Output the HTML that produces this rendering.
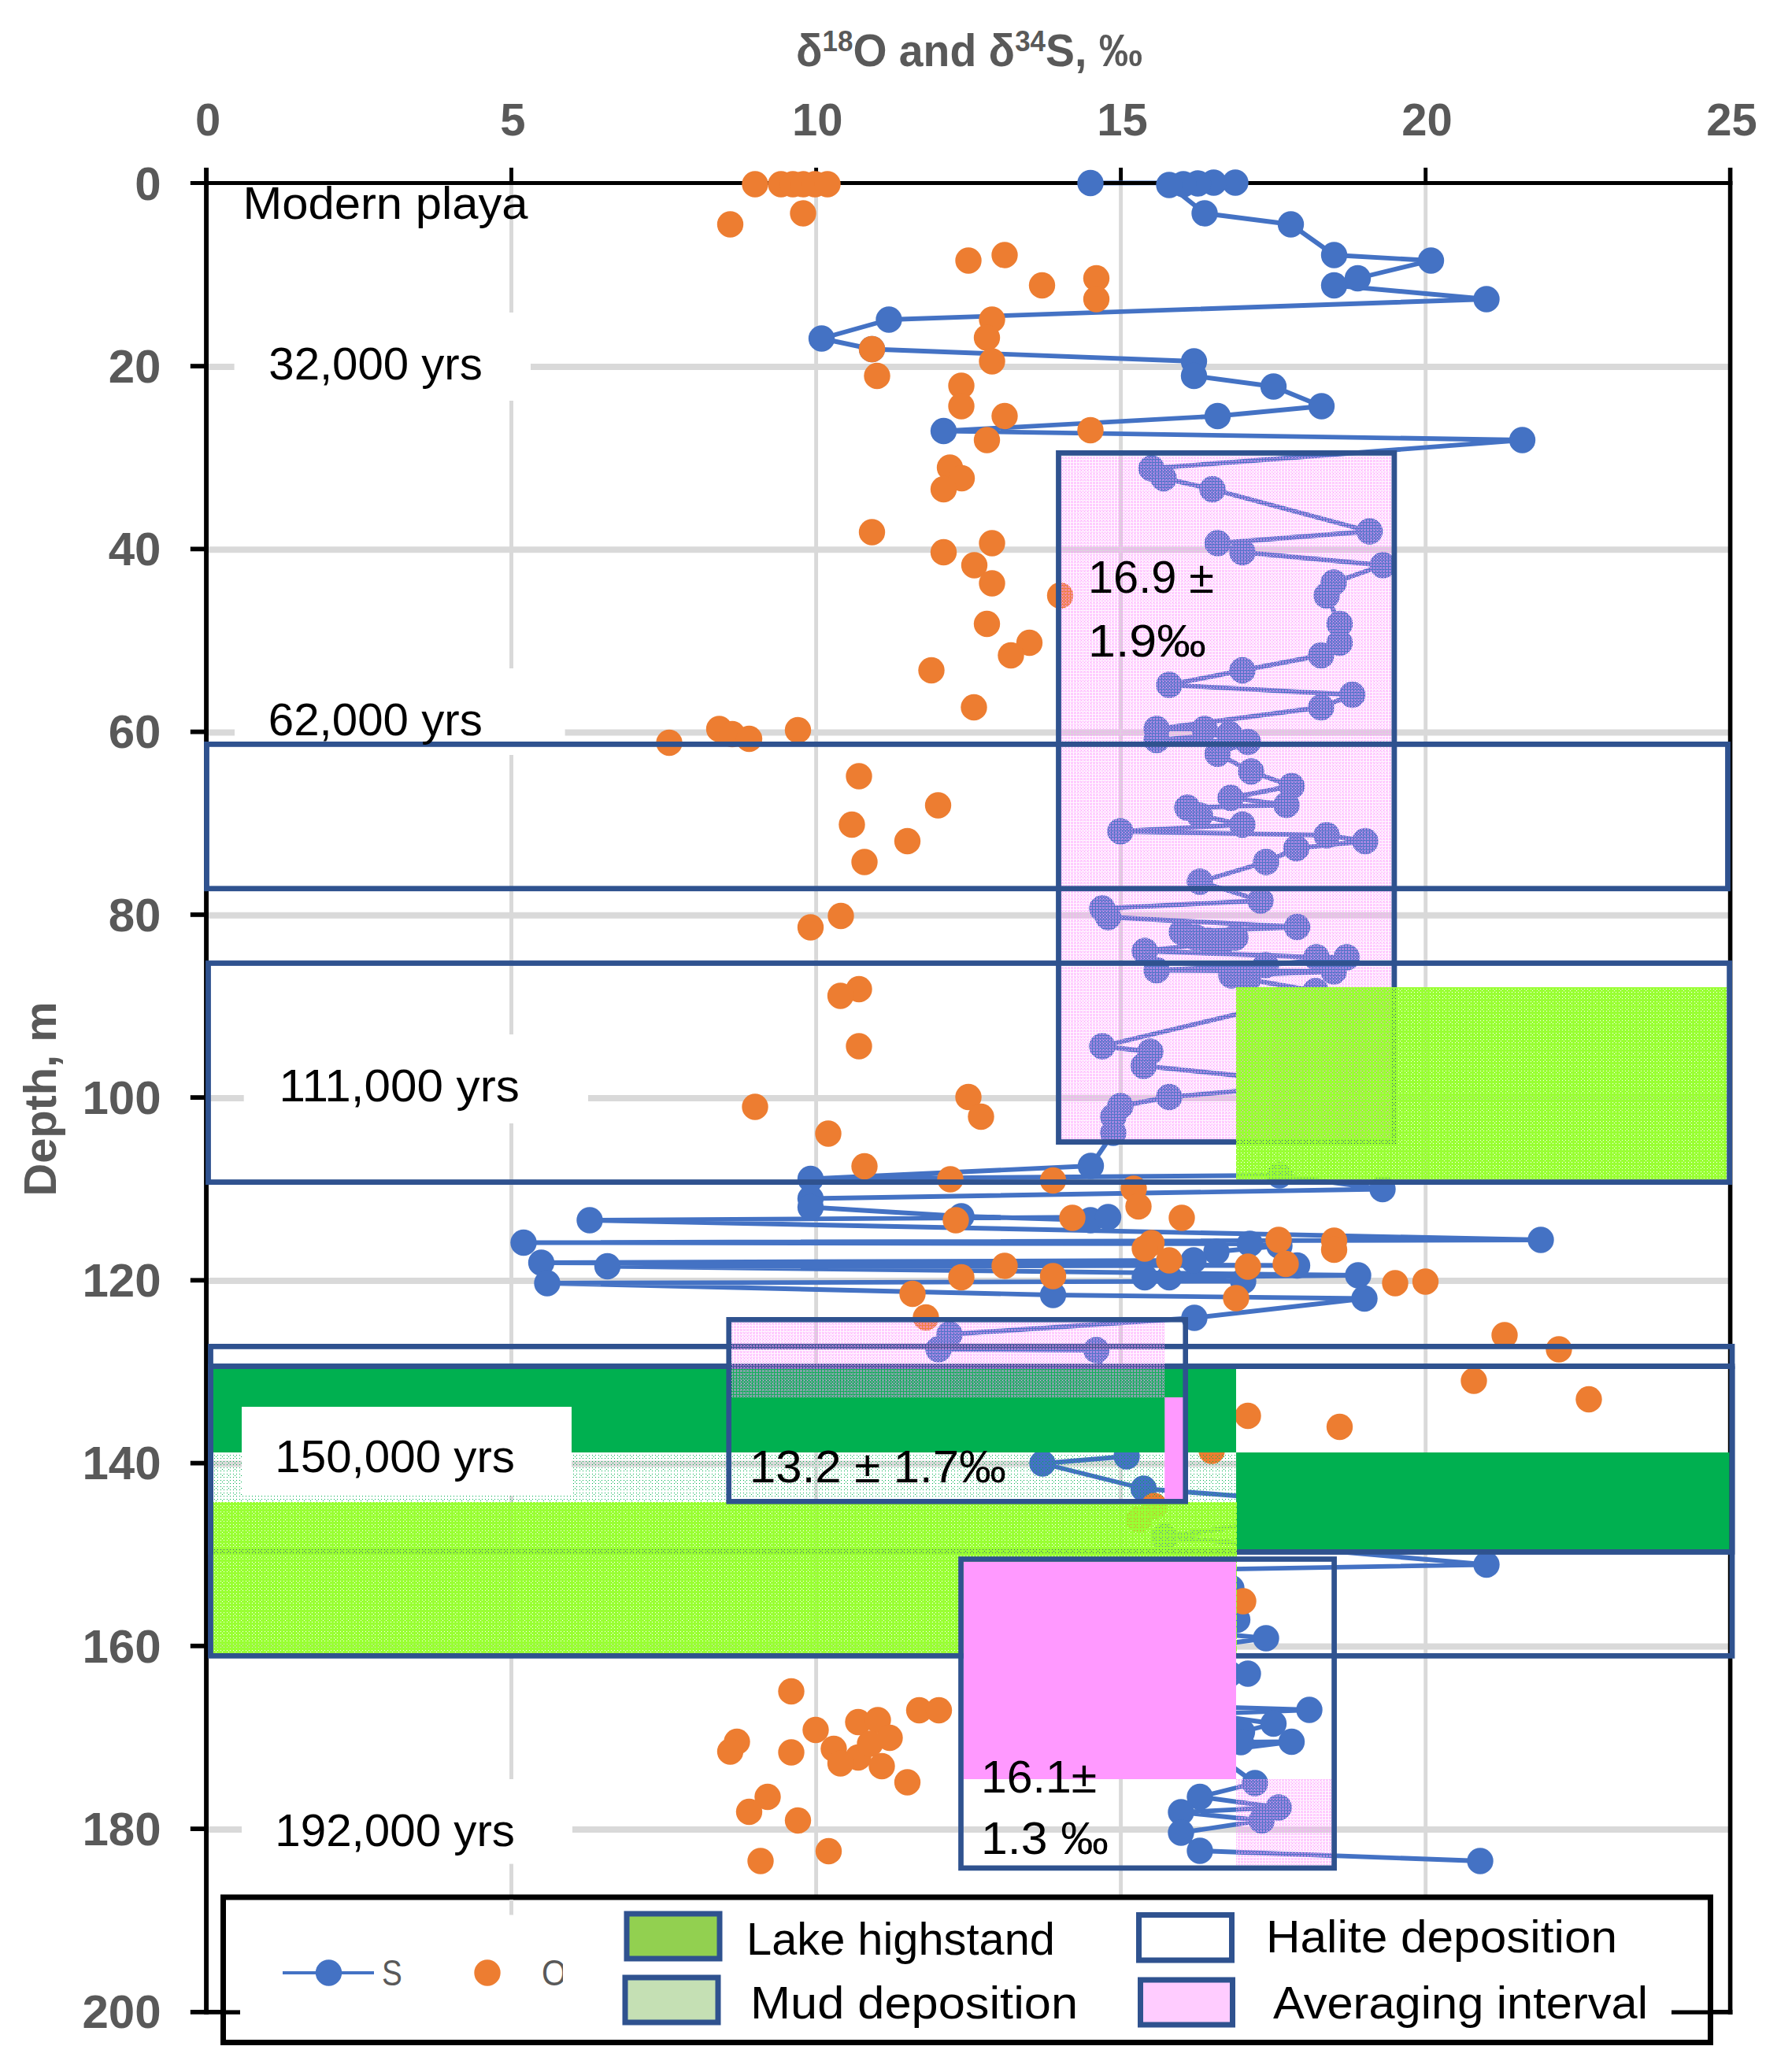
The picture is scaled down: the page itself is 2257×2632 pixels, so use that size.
<!DOCTYPE html>
<html lang="en"><head><meta charset="utf-8"><title>Isotope depth profile</title>
<style>html,body{margin:0;padding:0;background:#fff}svg{display:block}text{font-family:"Liberation Sans",sans-serif}</style></head><body>
<svg width="2257" height="2632" viewBox="0 0 2257 2632">
<defs>
<pattern id="pk" width="4" height="4" patternUnits="userSpaceOnUse" shape-rendering="crispEdges"><path fill="#FF99FF" d="M0 0h1v1h-1zM2 0h1v1h-1zM1 1h1v1h-1zM0 2h1v1h-1zM2 2h1v1h-1z"/></pattern>
<pattern id="lm" width="8" height="8" patternUnits="userSpaceOnUse" shape-rendering="crispEdges"><path fill="#99FF33" d="M1 0h3v1h-3zM5 0h3v1h-3zM0 1h8v1h-8zM0 2h2v1h-2zM3 2h5v1h-5zM0 3h8v1h-8zM1 4h3v1h-3zM5 4h3v1h-3zM0 5h8v3h-8z"/></pattern>
<pattern id="md" width="8" height="8" patternUnits="userSpaceOnUse" shape-rendering="crispEdges"><path fill="#00B050" d="M0 0h1v1h-1zM4 0h1v1h-1zM2 2h1v1h-1zM0 4h1v1h-1zM4 4h1v1h-1z"/></pattern>
<clipPath id="oc"><rect x="680" y="2470" width="35" height="80"/></clipPath>
</defs>
<rect width="2257" height="2632" fill="#fff"/>
<g stroke="#D9D9D9" fill="none">
<line x1="649.5" y1="235" x2="649.5" y2="2432.5" stroke-width="4.9"/>
<line x1="1036.6" y1="235" x2="1036.6" y2="2414" stroke-width="4.9"/>
<line x1="1423.6" y1="235" x2="1423.6" y2="2414" stroke-width="4.9"/>
<line x1="1810.7" y1="235" x2="1810.7" y2="2414" stroke-width="4.9"/>
<line x1="265" y1="465.9" x2="2195" y2="465.9" stroke-width="8"/>
<line x1="265" y1="698.2" x2="2195" y2="698.2" stroke-width="8"/>
<line x1="265" y1="930.4" x2="2195" y2="930.4" stroke-width="8"/>
<line x1="265" y1="1162.7" x2="2195" y2="1162.7" stroke-width="8"/>
<line x1="265" y1="1394.9" x2="2195" y2="1394.9" stroke-width="8"/>
<line x1="265" y1="1627.1" x2="2195" y2="1627.1" stroke-width="8"/>
<line x1="265" y1="1859.4" x2="2195" y2="1859.4" stroke-width="8"/>
<line x1="265" y1="2091.6" x2="2195" y2="2091.6" stroke-width="8"/>
<line x1="265" y1="2323.9" x2="2195" y2="2323.9" stroke-width="8"/>
</g>
<g fill="#fff">
<rect x="297.6" y="397" width="376.4" height="112"/>
<rect x="298" y="849" width="419.6" height="110"/>
<rect x="309.7" y="1314" width="437.3" height="113"/>
<rect x="307" y="2260" width="420" height="107.6"/>
</g>
<g stroke="#000" fill="none">
<line x1="241.8" y1="232.5" x2="2200.4" y2="232.5" stroke-width="5"/>
<line x1="262.05" y1="213" x2="262.05" y2="2559" stroke-width="5.9"/>
<line x1="2197.6" y1="213" x2="2197.6" y2="2559" stroke-width="5.6"/>
<line x1="241.8" y1="2555.8" x2="2200.4" y2="2555.8" stroke-width="5.8"/>
<line x1="649.5" y1="213" x2="649.5" y2="232.5" stroke-width="4.9"/>
<line x1="1036.6" y1="213" x2="1036.6" y2="232.5" stroke-width="4.9"/>
<line x1="1423.6" y1="213" x2="1423.6" y2="232.5" stroke-width="4.9"/>
<line x1="1810.7" y1="213" x2="1810.7" y2="232.5" stroke-width="4.9"/>
<line x1="241.8" y1="465.1" x2="262.2" y2="465.1" stroke-width="5.8"/>
<line x1="241.8" y1="697.4" x2="262.2" y2="697.4" stroke-width="5.8"/>
<line x1="241.8" y1="929.6" x2="262.2" y2="929.6" stroke-width="5.8"/>
<line x1="241.8" y1="1161.9" x2="262.2" y2="1161.9" stroke-width="5.8"/>
<line x1="241.8" y1="1394.1" x2="262.2" y2="1394.1" stroke-width="5.8"/>
<line x1="241.8" y1="1626.3" x2="262.2" y2="1626.3" stroke-width="5.8"/>
<line x1="241.8" y1="1858.6" x2="262.2" y2="1858.6" stroke-width="5.8"/>
<line x1="241.8" y1="2090.8" x2="262.2" y2="2090.8" stroke-width="5.8"/>
<line x1="241.8" y1="2323.1" x2="262.2" y2="2323.1" stroke-width="5.8"/>
</g>
<rect x="267.5" y="1735.6" width="1932.5" height="235.70000000000005" fill="none" stroke="#2F528F" stroke-width="6.8"/>
<polyline points="1385.0,232.5 1569.0,232.0 1541.5,232.0 1521.5,233.0 1503.0,234.0 1485.0,235.0 1530.0,271.0 1639.5,285.0 1694.5,324.0 1817.5,331.0 1724.5,353.5 1694.5,362.5 1888.0,380.0 1129.0,406.0 1043.5,430.0 1107.5,443.5 1516.5,459.0 1516.5,477.5 1617.5,491.0 1678.5,516.0 1546.5,528.5 1198.5,547.5 1933.5,559.0 1462.5,595.0 1478.0,607.5 1540.0,621.5 1739.5,675.0 1546.5,690.0 1578.0,701.5 1756.5,718.0 1694.0,740.0 1685.0,756.5 1701.5,792.5 1701.5,816.5 1678.0,832.5 1578.0,851.5 1485.0,870.0 1717.5,882.5 1678.0,898.5 1469.0,926.0 1530.0,926.0 1561.5,932.5 1469.0,940.0 1585.0,942.5 1546.5,957.5 1589.0,980.0 1640.5,998.5 1563.0,1013.5 1634.0,1022.5 1508.0,1026.0 1524.0,1036.0 1578.0,1047.5 1423.0,1056.0 1685.0,1061.0 1734.0,1068.5 1646.5,1077.5 1608.0,1095.0 1524.0,1120.0 1601.0,1144.0 1400.0,1154.0 1407.5,1165.0 1647.5,1177.5 1501.0,1184.0 1519.0,1191.0 1569.0,1191.0 1535.0,1195.0 1552.0,1197.0 1454.0,1208.0 1672.0,1216.0 1710.5,1216.0 1607.5,1226.0 1469.0,1232.5 1694.0,1234.0 1564.0,1239.0 1585.0,1244.0 1671.0,1259.0 1669.0,1265.0 1400.0,1329.0 1461.0,1336.0 1452.5,1354.0 1609.0,1370.0 1641.5,1380.0 1485.0,1393.5 1423.0,1405.0 1414.0,1418.5 1414.0,1439.0 1385.5,1481.0 1029.5,1497.5 1625.0,1493.0 1756.0,1510.5 1029.5,1522.5 1029.5,1533.5 1221.0,1545.0 1385.0,1550.0 1407.5,1546.0 749.0,1550.0 1957.0,1575.0 665.0,1578.5 1587.5,1580.0 1625.0,1582.5 1545.0,1590.0 1516.0,1601.0 687.5,1604.0 1647.5,1607.5 771.5,1608.5 1725.0,1620.0 1454.0,1622.5 1485.0,1622.5 1579.0,1627.5 695.0,1630.0 1337.5,1645.0 1733.0,1649.5 1517.0,1674.0 1206.0,1695.0 1192.0,1714.0 1392.5,1715.0 1431.0,1850.0 1324.0,1859.0 1452.5,1891.0 1750.0,1914.0 1479.0,1952.0 1888.0,1987.5 1400.0,1996.0 1564.0,2017.5 1530.0,2040.0 1571.5,2057.5 1535.0,2074.0 1608.0,2081.0 1535.0,2091.0 1585.0,2126.0 1530.0,2168.0 1663.0,2172.0 1530.0,2177.0 1617.5,2189.5 1577.5,2200.0 1576.0,2213.0 1640.5,2212.5 1540.0,2225.0 1550.0,2233.0 1594.0,2265.0 1524.0,2282.5 1624.0,2296.0 1500.0,2302.0 1602.5,2312.5 1500.0,2328.0 1524.0,2351.0 1880.0,2364.0" fill="none" stroke="#4472C4" stroke-width="5.9" stroke-linejoin="round"/>
<line x1="1380" y1="232.5" x2="1575" y2="232.5" stroke="#000" stroke-width="5"/>
<g fill="#4472C4"><circle cx="1385.0" cy="232.5" r="16.7"/><circle cx="1569.0" cy="232.0" r="16.7"/><circle cx="1541.5" cy="232.0" r="16.7"/><circle cx="1521.5" cy="233.0" r="16.7"/><circle cx="1503.0" cy="234.0" r="16.7"/><circle cx="1485.0" cy="235.0" r="16.7"/><circle cx="1530.0" cy="271.0" r="16.7"/><circle cx="1639.5" cy="285.0" r="16.7"/><circle cx="1694.5" cy="324.0" r="16.7"/><circle cx="1817.5" cy="331.0" r="16.7"/><circle cx="1724.5" cy="353.5" r="16.7"/><circle cx="1694.5" cy="362.5" r="16.7"/><circle cx="1888.0" cy="380.0" r="16.7"/><circle cx="1129.0" cy="406.0" r="16.7"/><circle cx="1043.5" cy="430.0" r="16.7"/><circle cx="1107.5" cy="443.5" r="16.7"/><circle cx="1516.5" cy="459.0" r="16.7"/><circle cx="1516.5" cy="477.5" r="16.7"/><circle cx="1617.5" cy="491.0" r="16.7"/><circle cx="1678.5" cy="516.0" r="16.7"/><circle cx="1546.5" cy="528.5" r="16.7"/><circle cx="1198.5" cy="547.5" r="16.7"/><circle cx="1933.5" cy="559.0" r="16.7"/><circle cx="1462.5" cy="595.0" r="16.7"/><circle cx="1478.0" cy="607.5" r="16.7"/><circle cx="1540.0" cy="621.5" r="16.7"/><circle cx="1739.5" cy="675.0" r="16.7"/><circle cx="1546.5" cy="690.0" r="16.7"/><circle cx="1578.0" cy="701.5" r="16.7"/><circle cx="1756.5" cy="718.0" r="16.7"/><circle cx="1694.0" cy="740.0" r="16.7"/><circle cx="1685.0" cy="756.5" r="16.7"/><circle cx="1701.5" cy="792.5" r="16.7"/><circle cx="1701.5" cy="816.5" r="16.7"/><circle cx="1678.0" cy="832.5" r="16.7"/><circle cx="1578.0" cy="851.5" r="16.7"/><circle cx="1485.0" cy="870.0" r="16.7"/><circle cx="1717.5" cy="882.5" r="16.7"/><circle cx="1678.0" cy="898.5" r="16.7"/><circle cx="1469.0" cy="926.0" r="16.7"/><circle cx="1530.0" cy="926.0" r="16.7"/><circle cx="1561.5" cy="932.5" r="16.7"/><circle cx="1469.0" cy="940.0" r="16.7"/><circle cx="1585.0" cy="942.5" r="16.7"/><circle cx="1546.5" cy="957.5" r="16.7"/><circle cx="1589.0" cy="980.0" r="16.7"/><circle cx="1640.5" cy="998.5" r="16.7"/><circle cx="1563.0" cy="1013.5" r="16.7"/><circle cx="1634.0" cy="1022.5" r="16.7"/><circle cx="1508.0" cy="1026.0" r="16.7"/><circle cx="1524.0" cy="1036.0" r="16.7"/><circle cx="1578.0" cy="1047.5" r="16.7"/><circle cx="1423.0" cy="1056.0" r="16.7"/><circle cx="1685.0" cy="1061.0" r="16.7"/><circle cx="1734.0" cy="1068.5" r="16.7"/><circle cx="1646.5" cy="1077.5" r="16.7"/><circle cx="1608.0" cy="1095.0" r="16.7"/><circle cx="1524.0" cy="1120.0" r="16.7"/><circle cx="1601.0" cy="1144.0" r="16.7"/><circle cx="1400.0" cy="1154.0" r="16.7"/><circle cx="1407.5" cy="1165.0" r="16.7"/><circle cx="1647.5" cy="1177.5" r="16.7"/><circle cx="1501.0" cy="1184.0" r="16.7"/><circle cx="1519.0" cy="1191.0" r="16.7"/><circle cx="1569.0" cy="1191.0" r="16.7"/><circle cx="1535.0" cy="1195.0" r="16.7"/><circle cx="1552.0" cy="1197.0" r="16.7"/><circle cx="1454.0" cy="1208.0" r="16.7"/><circle cx="1672.0" cy="1216.0" r="16.7"/><circle cx="1710.5" cy="1216.0" r="16.7"/><circle cx="1607.5" cy="1226.0" r="16.7"/><circle cx="1469.0" cy="1232.5" r="16.7"/><circle cx="1694.0" cy="1234.0" r="16.7"/><circle cx="1564.0" cy="1239.0" r="16.7"/><circle cx="1585.0" cy="1244.0" r="16.7"/><circle cx="1671.0" cy="1259.0" r="16.7"/><circle cx="1669.0" cy="1265.0" r="16.7"/><circle cx="1400.0" cy="1329.0" r="16.7"/><circle cx="1461.0" cy="1336.0" r="16.7"/><circle cx="1452.5" cy="1354.0" r="16.7"/><circle cx="1609.0" cy="1370.0" r="16.7"/><circle cx="1641.5" cy="1380.0" r="16.7"/><circle cx="1485.0" cy="1393.5" r="16.7"/><circle cx="1423.0" cy="1405.0" r="16.7"/><circle cx="1414.0" cy="1418.5" r="16.7"/><circle cx="1414.0" cy="1439.0" r="16.7"/><circle cx="1385.5" cy="1481.0" r="16.7"/><circle cx="1029.5" cy="1497.5" r="16.7"/><circle cx="1625.0" cy="1493.0" r="16.7"/><circle cx="1756.0" cy="1510.5" r="16.7"/><circle cx="1029.5" cy="1522.5" r="16.7"/><circle cx="1029.5" cy="1533.5" r="16.7"/><circle cx="1221.0" cy="1545.0" r="16.7"/><circle cx="1385.0" cy="1550.0" r="16.7"/><circle cx="1407.5" cy="1546.0" r="16.7"/><circle cx="749.0" cy="1550.0" r="16.7"/><circle cx="1957.0" cy="1575.0" r="16.7"/><circle cx="665.0" cy="1578.5" r="16.7"/><circle cx="1587.5" cy="1580.0" r="16.7"/><circle cx="1625.0" cy="1582.5" r="16.7"/><circle cx="1545.0" cy="1590.0" r="16.7"/><circle cx="1516.0" cy="1601.0" r="16.7"/><circle cx="687.5" cy="1604.0" r="16.7"/><circle cx="1647.5" cy="1607.5" r="16.7"/><circle cx="771.5" cy="1608.5" r="16.7"/><circle cx="1725.0" cy="1620.0" r="16.7"/><circle cx="1454.0" cy="1622.5" r="16.7"/><circle cx="1485.0" cy="1622.5" r="16.7"/><circle cx="1579.0" cy="1627.5" r="16.7"/><circle cx="695.0" cy="1630.0" r="16.7"/><circle cx="1337.5" cy="1645.0" r="16.7"/><circle cx="1733.0" cy="1649.5" r="16.7"/><circle cx="1517.0" cy="1674.0" r="16.7"/><circle cx="1206.0" cy="1695.0" r="16.7"/><circle cx="1192.0" cy="1714.0" r="16.7"/><circle cx="1392.5" cy="1715.0" r="16.7"/><circle cx="1431.0" cy="1850.0" r="16.7"/><circle cx="1324.0" cy="1859.0" r="16.7"/><circle cx="1452.5" cy="1891.0" r="16.7"/><circle cx="1750.0" cy="1914.0" r="16.7"/><circle cx="1479.0" cy="1952.0" r="16.7"/><circle cx="1888.0" cy="1987.5" r="16.7"/><circle cx="1400.0" cy="1996.0" r="16.7"/><circle cx="1564.0" cy="2017.5" r="16.7"/><circle cx="1530.0" cy="2040.0" r="16.7"/><circle cx="1571.5" cy="2057.5" r="16.7"/><circle cx="1535.0" cy="2074.0" r="16.7"/><circle cx="1608.0" cy="2081.0" r="16.7"/><circle cx="1535.0" cy="2091.0" r="16.7"/><circle cx="1585.0" cy="2126.0" r="16.7"/><circle cx="1530.0" cy="2168.0" r="16.7"/><circle cx="1663.0" cy="2172.0" r="16.7"/><circle cx="1530.0" cy="2177.0" r="16.7"/><circle cx="1617.5" cy="2189.5" r="16.7"/><circle cx="1577.5" cy="2200.0" r="16.7"/><circle cx="1576.0" cy="2213.0" r="16.7"/><circle cx="1640.5" cy="2212.5" r="16.7"/><circle cx="1540.0" cy="2225.0" r="16.7"/><circle cx="1550.0" cy="2233.0" r="16.7"/><circle cx="1594.0" cy="2265.0" r="16.7"/><circle cx="1524.0" cy="2282.5" r="16.7"/><circle cx="1624.0" cy="2296.0" r="16.7"/><circle cx="1500.0" cy="2302.0" r="16.7"/><circle cx="1602.5" cy="2312.5" r="16.7"/><circle cx="1500.0" cy="2328.0" r="16.7"/><circle cx="1524.0" cy="2351.0" r="16.7"/><circle cx="1880.0" cy="2364.0" r="16.7"/></g>
<g fill="#ED7D31"><circle cx="959.0" cy="234.0" r="16.7"/><circle cx="992.0" cy="234.0" r="16.7"/><circle cx="1007.0" cy="234.0" r="16.7"/><circle cx="1020.0" cy="234.0" r="16.7"/><circle cx="1035.0" cy="234.0" r="16.7"/><circle cx="1051.0" cy="234.0" r="16.7"/><circle cx="1020.0" cy="271.0" r="16.7"/><circle cx="927.5" cy="285.0" r="16.7"/><circle cx="1230.0" cy="331.0" r="16.7"/><circle cx="1276.0" cy="324.0" r="16.7"/><circle cx="1323.5" cy="362.5" r="16.7"/><circle cx="1392.5" cy="353.5" r="16.7"/><circle cx="1392.5" cy="380.0" r="16.7"/><circle cx="1260.0" cy="406.0" r="16.7"/><circle cx="1253.5" cy="429.0" r="16.7"/><circle cx="1260.0" cy="459.0" r="16.7"/><circle cx="1107.5" cy="443.5" r="16.7"/><circle cx="1114.0" cy="477.5" r="16.7"/><circle cx="1221.0" cy="490.0" r="16.7"/><circle cx="1221.0" cy="516.0" r="16.7"/><circle cx="1276.0" cy="528.5" r="16.7"/><circle cx="1253.5" cy="559.0" r="16.7"/><circle cx="1385.0" cy="546.5" r="16.7"/><circle cx="1206.5" cy="594.0" r="16.7"/><circle cx="1221.5" cy="607.5" r="16.7"/><circle cx="1198.5" cy="621.5" r="16.7"/><circle cx="1107.5" cy="676.0" r="16.7"/><circle cx="1260.0" cy="690.0" r="16.7"/><circle cx="1198.5" cy="701.5" r="16.7"/><circle cx="1237.5" cy="718.0" r="16.7"/><circle cx="1260.0" cy="741.0" r="16.7"/><circle cx="1346.5" cy="756.5" r="16.7"/><circle cx="1253.5" cy="792.5" r="16.7"/><circle cx="1307.5" cy="816.5" r="16.7"/><circle cx="1284.0" cy="832.5" r="16.7"/><circle cx="1183.0" cy="851.5" r="16.7"/><circle cx="1237.0" cy="898.5" r="16.7"/><circle cx="1013.5" cy="927.5" r="16.7"/><circle cx="913.5" cy="926.0" r="16.7"/><circle cx="930.0" cy="932.5" r="16.7"/><circle cx="951.5" cy="938.5" r="16.7"/><circle cx="850.0" cy="943.5" r="16.7"/><circle cx="1091.0" cy="986.0" r="16.7"/><circle cx="1191.5" cy="1023.0" r="16.7"/><circle cx="1082.0" cy="1047.5" r="16.7"/><circle cx="1152.5" cy="1068.5" r="16.7"/><circle cx="1098.0" cy="1095.0" r="16.7"/><circle cx="1068.0" cy="1163.5" r="16.7"/><circle cx="1029.5" cy="1178.0" r="16.7"/><circle cx="1091.0" cy="1256.5" r="16.7"/><circle cx="1067.5" cy="1265.0" r="16.7"/><circle cx="1091.0" cy="1329.0" r="16.7"/><circle cx="959.0" cy="1406.0" r="16.7"/><circle cx="1230.0" cy="1393.5" r="16.7"/><circle cx="1246.0" cy="1418.5" r="16.7"/><circle cx="1052.0" cy="1440.0" r="16.7"/><circle cx="1098.0" cy="1481.5" r="16.7"/><circle cx="1207.0" cy="1498.0" r="16.7"/><circle cx="1337.5" cy="1499.5" r="16.7"/><circle cx="1440.0" cy="1510.0" r="16.7"/><circle cx="1446.0" cy="1532.5" r="16.7"/><circle cx="1214.0" cy="1550.0" r="16.7"/><circle cx="1362.0" cy="1547.0" r="16.7"/><circle cx="1501.0" cy="1547.0" r="16.7"/><circle cx="1462.5" cy="1579.0" r="16.7"/><circle cx="1454.0" cy="1586.0" r="16.7"/><circle cx="1485.0" cy="1601.0" r="16.7"/><circle cx="1276.0" cy="1608.0" r="16.7"/><circle cx="1221.0" cy="1622.5" r="16.7"/><circle cx="1337.5" cy="1621.0" r="16.7"/><circle cx="1159.0" cy="1643.5" r="16.7"/><circle cx="1176.0" cy="1673.5" r="16.7"/><circle cx="1624.0" cy="1575.0" r="16.7"/><circle cx="1694.5" cy="1576.0" r="16.7"/><circle cx="1694.5" cy="1587.5" r="16.7"/><circle cx="1633.0" cy="1605.5" r="16.7"/><circle cx="1585.0" cy="1609.0" r="16.7"/><circle cx="1772.0" cy="1630.0" r="16.7"/><circle cx="1810.5" cy="1628.0" r="16.7"/><circle cx="1570.0" cy="1649.0" r="16.7"/><circle cx="1911.0" cy="1696.0" r="16.7"/><circle cx="1980.0" cy="1714.0" r="16.7"/><circle cx="1872.0" cy="1754.0" r="16.7"/><circle cx="2018.0" cy="1777.5" r="16.7"/><circle cx="1585.0" cy="1798.5" r="16.7"/><circle cx="1701.5" cy="1812.5" r="16.7"/><circle cx="1539.0" cy="1843.0" r="16.7"/><circle cx="1466.0" cy="1913.0" r="16.7"/><circle cx="1447.0" cy="1930.0" r="16.7"/><circle cx="1579.0" cy="2034.0" r="16.7"/><circle cx="1005.0" cy="2148.5" r="16.7"/><circle cx="1167.5" cy="2172.5" r="16.7"/><circle cx="1192.5" cy="2172.5" r="16.7"/><circle cx="1090.0" cy="2187.5" r="16.7"/><circle cx="1115.0" cy="2185.0" r="16.7"/><circle cx="1036.0" cy="2197.5" r="16.7"/><circle cx="1130.0" cy="2207.5" r="16.7"/><circle cx="936.0" cy="2212.5" r="16.7"/><circle cx="927.5" cy="2225.0" r="16.7"/><circle cx="1005.0" cy="2226.0" r="16.7"/><circle cx="1059.0" cy="2221.5" r="16.7"/><circle cx="1090.0" cy="2232.5" r="16.7"/><circle cx="1067.5" cy="2240.0" r="16.7"/><circle cx="1120.0" cy="2243.5" r="16.7"/><circle cx="1105.0" cy="2215.0" r="16.7"/><circle cx="1152.5" cy="2264.0" r="16.7"/><circle cx="975.0" cy="2282.5" r="16.7"/><circle cx="951.5" cy="2301.5" r="16.7"/><circle cx="1013.5" cy="2312.5" r="16.7"/><circle cx="1052.5" cy="2351.5" r="16.7"/><circle cx="966.0" cy="2364.0" r="16.7"/></g>
<rect x="1348" y="578.8" width="419.5" height="868.4000000000001" fill="url(#pk)"/>
<rect x="1344.5" y="575.4" width="426.4000000000001" height="875.1999999999999" fill="none" stroke="#2F528F" stroke-width="6.8"/>
<rect x="270.9" y="1739" width="1299.1" height="106" fill="#00B050"/>
<rect x="1570" y="1845" width="626.5999999999999" height="123" fill="#00B050"/>
<rect x="270.9" y="1845" width="1299.1" height="63" fill="url(#md)"/>
<rect x="270.9" y="1908" width="1300.1" height="192" fill="url(#lm)"/>
<rect x="1570" y="1254" width="623.1999999999998" height="244.5" fill="url(#lm)"/>
<g fill="none" stroke="#2F528F" stroke-width="6.8">
<rect x="262.5" y="945.4" width="1932.0" height="183.35000000000002"/>
<rect x="264.5" y="1223.5" width="1932.1" height="278.0999999999999"/>
<rect x="267.5" y="1710.4" width="1932.5" height="25.199999999999818"/>
<path d="M267.5 1735.6V2103.3H2200V1735.6"/>
<path d="M1571 1971.3H2200"/>
</g>
<rect x="929" y="1679.5" width="550.25" height="95.5" fill="url(#pk)"/>
<rect x="1479.25" y="1775" width="23.75" height="129.20000000000005" fill="#FF99FF"/>
<rect x="925.7" y="1676.3" width="580.0" height="231.0" fill="none" stroke="#2F528F" stroke-width="6.6"/>
<rect x="1223.8" y="1983.8" width="346.20000000000005" height="276.20000000000005" fill="#FF99FF"/>
<rect x="1570" y="2260" width="121.25" height="109.5" fill="url(#pk)"/>
<rect x="1220.5" y="1980.5" width="474.0999999999999" height="392.4000000000001" fill="none" stroke="#2F528F" stroke-width="6.7"/>
<rect x="307" y="1787" width="419" height="113" fill="#fff"/>
<rect x="283.5" y="2410" width="1889" height="184.5" fill="#fff" stroke="#000" stroke-width="7"/>
<line x1="649.5" y1="2413" x2="649.5" y2="2432.5" stroke="#D9D9D9" stroke-width="4.9"/>
<line x1="280" y1="2556.1" x2="305" y2="2556.1" stroke="#000" stroke-width="5.4"/>
<line x1="2123" y1="2556.1" x2="2176" y2="2556.1" stroke="#000" stroke-width="5.4"/>
<line x1="359" y1="2506" x2="475" y2="2506" stroke="#4472C4" stroke-width="4"/>
<circle cx="417.5" cy="2506" r="16.7" fill="#4472C4"/>
<circle cx="619" cy="2506" r="16.7" fill="#ED7D31"/>
<text x="485" y="2522" font-size="46" fill="#595959" textLength="25.8" lengthAdjust="spacingAndGlyphs">S</text>
<g clip-path="url(#oc)"><text x="688" y="2522" font-size="46" fill="#595959" textLength="32" lengthAdjust="spacingAndGlyphs">O</text></g>
<rect x="796.0" y="2431.0" width="118.0" height="57.0" fill="#92D050" stroke="#2F528F" stroke-width="7"/>
<rect x="794.0" y="2512.0" width="118.0" height="57.0" fill="#C5E0B4" stroke="#2F528F" stroke-width="7"/>
<rect x="1446.5" y="2432.5" width="118" height="57.5" fill="#fff" stroke="#2F528F" stroke-width="7"/>
<rect x="1448.5" y="2515.0" width="117" height="57.0" fill="#FFCCFF" stroke="#2F528F" stroke-width="7"/>
<text x="948" y="2482.5" font-size="58" font-weight="normal" fill="#000" text-anchor="start" textLength="392" lengthAdjust="spacingAndGlyphs">Lake highstand</text>
<text x="953" y="2563.5" font-size="58" font-weight="normal" fill="#000" text-anchor="start" textLength="416" lengthAdjust="spacingAndGlyphs">Mud deposition</text>
<text x="1608" y="2480" font-size="58" font-weight="normal" fill="#000" text-anchor="start" textLength="446" lengthAdjust="spacingAndGlyphs">Halite deposition</text>
<text x="1617" y="2564" font-size="58" font-weight="normal" fill="#000" text-anchor="start" textLength="476" lengthAdjust="spacingAndGlyphs">Averaging interval</text>
<text x="308.5" y="278" font-size="58" font-weight="normal" fill="#000" text-anchor="start" textLength="362" lengthAdjust="spacingAndGlyphs">Modern playa</text>
<text x="341.3" y="481.6" font-size="58" font-weight="normal" fill="#000" text-anchor="start" textLength="271.5" lengthAdjust="spacingAndGlyphs">32,000 yrs</text>
<text x="340.8" y="934.3" font-size="58" font-weight="normal" fill="#000" text-anchor="start" textLength="272" lengthAdjust="spacingAndGlyphs">62,000 yrs</text>
<text x="354.4" y="1399" font-size="58" font-weight="normal" fill="#000" text-anchor="start" textLength="305.4" lengthAdjust="spacingAndGlyphs">111,000 yrs</text>
<text x="349.3" y="1869.8" font-size="58" font-weight="normal" fill="#000" text-anchor="start" textLength="304.7" lengthAdjust="spacingAndGlyphs">150,000 yrs</text>
<text x="349.3" y="2345" font-size="58" font-weight="normal" fill="#000" text-anchor="start" textLength="304.7" lengthAdjust="spacingAndGlyphs">192,000 yrs</text>
<text x="1382" y="752.5" font-size="58" font-weight="normal" fill="#000" text-anchor="start" textLength="160" lengthAdjust="spacingAndGlyphs">16.9 ±</text>
<text x="1382" y="834" font-size="58" font-weight="normal" fill="#000" text-anchor="start" textLength="150" lengthAdjust="spacingAndGlyphs">1.9‰</text>
<text x="952" y="1882.5" font-size="58" font-weight="normal" fill="#000" text-anchor="start" textLength="326" lengthAdjust="spacingAndGlyphs">13.2 ± 1.7‰</text>
<text x="1246" y="2277" font-size="58" font-weight="normal" fill="#000" text-anchor="start" textLength="147" lengthAdjust="spacingAndGlyphs">16.1±</text>
<text x="1246" y="2355" font-size="58" font-weight="normal" fill="#000" text-anchor="start" textLength="162" lengthAdjust="spacingAndGlyphs">1.3 ‰</text>
<text x="264.2" y="171.5" font-size="58" font-weight="bold" fill="#595959" text-anchor="middle">0</text>
<text x="651.2750000000001" y="171.5" font-size="58" font-weight="bold" fill="#595959" text-anchor="middle">5</text>
<text x="1038.3500000000001" y="171.5" font-size="58" font-weight="bold" fill="#595959" text-anchor="middle">10</text>
<text x="1425.4250000000002" y="171.5" font-size="58" font-weight="bold" fill="#595959" text-anchor="middle">15</text>
<text x="1812.5000000000002" y="171.5" font-size="58" font-weight="bold" fill="#595959" text-anchor="middle">20</text>
<text x="2199.5750000000003" y="171.5" font-size="58" font-weight="bold" fill="#595959" text-anchor="middle">25</text>
<text x="204.5" y="253.7" font-size="60" font-weight="bold" fill="#595959" text-anchor="end">0</text>
<text x="204.5" y="485.94" font-size="60" font-weight="bold" fill="#595959" text-anchor="end">20</text>
<text x="204.5" y="718.1800000000001" font-size="60" font-weight="bold" fill="#595959" text-anchor="end">40</text>
<text x="204.5" y="950.4200000000001" font-size="60" font-weight="bold" fill="#595959" text-anchor="end">60</text>
<text x="204.5" y="1182.66" font-size="60" font-weight="bold" fill="#595959" text-anchor="end">80</text>
<text x="204.5" y="1414.9" font-size="60" font-weight="bold" fill="#595959" text-anchor="end">100</text>
<text x="204.5" y="1647.14" font-size="60" font-weight="bold" fill="#595959" text-anchor="end">120</text>
<text x="204.5" y="1879.38" font-size="60" font-weight="bold" fill="#595959" text-anchor="end">140</text>
<text x="204.5" y="2111.62" font-size="60" font-weight="bold" fill="#595959" text-anchor="end">160</text>
<text x="204.5" y="2343.8599999999997" font-size="60" font-weight="bold" fill="#595959" text-anchor="end">180</text>
<text x="204.5" y="2576.1" font-size="60" font-weight="bold" fill="#595959" text-anchor="end">200</text>
<text x="1011" y="83.6" font-size="57" font-weight="bold" fill="#595959" textLength="440" lengthAdjust="spacingAndGlyphs">δ<tspan font-size="36" dy="-19">18</tspan><tspan dy="19">O and δ</tspan><tspan font-size="36" dy="-19">34</tspan><tspan dy="19">S, ‰</tspan></text>
<text transform="translate(71,1519.5) rotate(-90)" font-size="57" font-weight="bold" fill="#595959" textLength="247" lengthAdjust="spacingAndGlyphs">Depth, m</text>
</svg></body></html>
